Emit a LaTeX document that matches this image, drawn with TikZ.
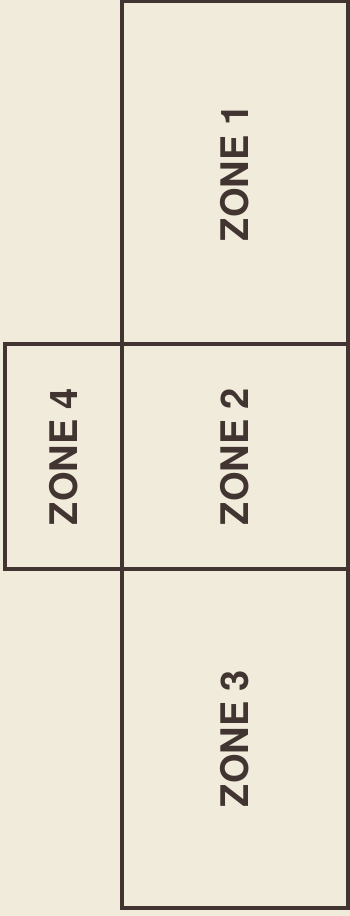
\documentclass[tikz,border=0pt]{standalone}
\usepackage{fontspec}
\setmainfont{TeX Gyre Heros}
\usepackage{xcolor}
\usetikzlibrary{positioning}
\definecolor{paper}{RGB}{240,235,218}
\definecolor{zoneink}{RGB}{66,52,48}

\begin{document}
\begin{tikzpicture}[x=1pt,y=-1pt,
  zone/.style={draw=zoneink,line width=3.2pt,outer sep=0pt,inner sep=0pt,minimum width=226pt},
  zonelabel/.style={rotate=90,text=zoneink,font=\fontsize{38}{44}\selectfont\bfseries}]
% sheet
\fill[paper] (0,0) rectangle (350,916);
\useasboundingbox (0,0) rectangle (350,916);
% zones
\node[zone,minimum height=343pt,anchor=north west] (z1) at (122,1) {};
\node[zone,minimum height=225pt,below=0pt of z1] (z2) {};
\node[zone,minimum height=339pt,below=0pt of z2] (z3) {};
\node[zone,minimum width=117pt,minimum height=225pt,left=0pt of z2] (z4) {};
% labels
\node[zonelabel] (l1) at (z1) {ZONE 1};
\node[zonelabel] (l2) at (z2) {ZONE 2};
\node[zonelabel] (l3) at (z3) {ZONE 3};
\node[zonelabel] (l4) at (z4) {ZONE 4};
\end{tikzpicture}
\end{document}
